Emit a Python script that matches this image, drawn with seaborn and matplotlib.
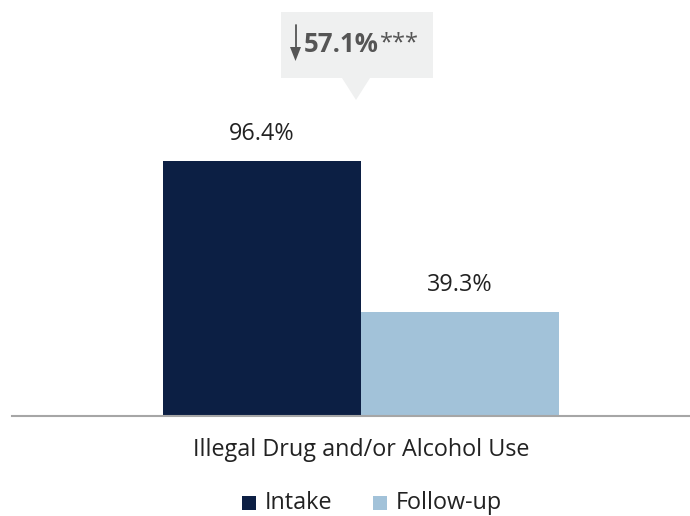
import matplotlib
matplotlib.use("Agg")
import matplotlib.pyplot as plt
import seaborn as sns
import pandas as pd
from matplotlib.patches import Rectangle, Polygon
from matplotlib.lines import Line2D

categories = ["Illegal Drug and/or Alcohol Use"]
periods = ["Intake", "Follow-up"]
intake_values = [96.4]
followup_values = [39.3]
change_label = "57.1%"
significance = "***"

colors = {"Intake": "#0C1F44", "Follow-up": "#A2C2D9"}

df = pd.DataFrame({
    "category": categories * 2,
    "period": ["Intake"] * len(categories) + ["Follow-up"] * len(categories),
    "value": intake_values + followup_values,
})

sns.set_theme(style="white")
plt.rcParams["font.family"] = ["Open Sans", "DejaVu Sans"]

W, H = 690, 516
fig = plt.figure(figsize=(W / 100, H / 100), dpi=100)
ax_left, ax_right, ax_bottom, ax_top = 12, 690, 416, 60
ax = fig.add_axes([ax_left / W, (H - ax_bottom) / H, (ax_right - ax_left) / W, (ax_bottom - ax_top) / H])

sns.barplot(data=df, x="category", y="value", hue="period", palette=colors,
            hue_order=periods, width=0.8, saturation=1, ax=ax, legend=False,
            linewidth=0)

ax.set_xlim(-0.705, 0.665)
ax.set_ylim(0, (ax_bottom - ax_top) / 2.645)
for s in ["top", "right", "left"]:
    ax.spines[s].set_visible(False)
ax.spines["bottom"].set_color("#A6A6A6")
ax.spines["bottom"].set_linewidth(1.5)
ax.set_yticks([])
ax.set_xlabel("")
ax.set_ylabel("")
ax.tick_params(axis="x", length=0, pad=16, labelsize=16.8, labelcolor="#222222")

for cont in ax.containers:
    for bar in cont:
        h = bar.get_height()
        ax.text(bar.get_x() + bar.get_width() / 2, h + 27 / 2.645, f"{h:.1f}%",
                ha="center", va="center", fontsize=16.8, color="#222222")

# callout box
def fx(px):
    return px / W

def fy(py):
    return 1 - py / H

fig.add_artist(Rectangle((fx(281), fy(78)), fx(433) - fx(281), fy(12) - fy(78),
                         transform=fig.transFigure, facecolor="#EFF0F0", edgecolor="none"))
fig.add_artist(Polygon([(fx(342), fy(78)), (fx(370), fy(78)), (fx(356), fy(100))],
                       closed=True, transform=fig.transFigure, facecolor="#EFF0F0", edgecolor="none"))
# thin down arrow
fig.add_artist(Line2D([fx(295.5), fx(295.5)], [fy(25), fy(56)], transform=fig.transFigure,
                      color="#555555", linewidth=1.3))
fig.add_artist(Polygon([(fx(290), fy(47)), (fx(301), fy(47)), (fx(295.5), fy(61))],
                       closed=True, transform=fig.transFigure, facecolor="#555555", edgecolor="none"))
t = fig.text(fx(304), fy(45), change_label, fontsize=18.5, fontweight="bold", color="#555555",
             ha="left", va="center")
fig.canvas.draw()
bb = t.get_window_extent()
fig.text((bb.x1 + 1) / W, fy(43), significance, fontsize=17, color="#555555",
         ha="left", va="center")

# legend
for i, p in enumerate(periods):
    x0 = [242, 373][i]
    fig.add_artist(Rectangle((fx(x0), fy(510)), fx(14), 14 / H, transform=fig.transFigure,
                             facecolor=colors[p], edgecolor="none"))
    fig.text(fx(x0 + 23), fy(503), p, fontsize=16.8, color="#222222", ha="left", va="center")

fig.savefig("out.png", dpi=100)
